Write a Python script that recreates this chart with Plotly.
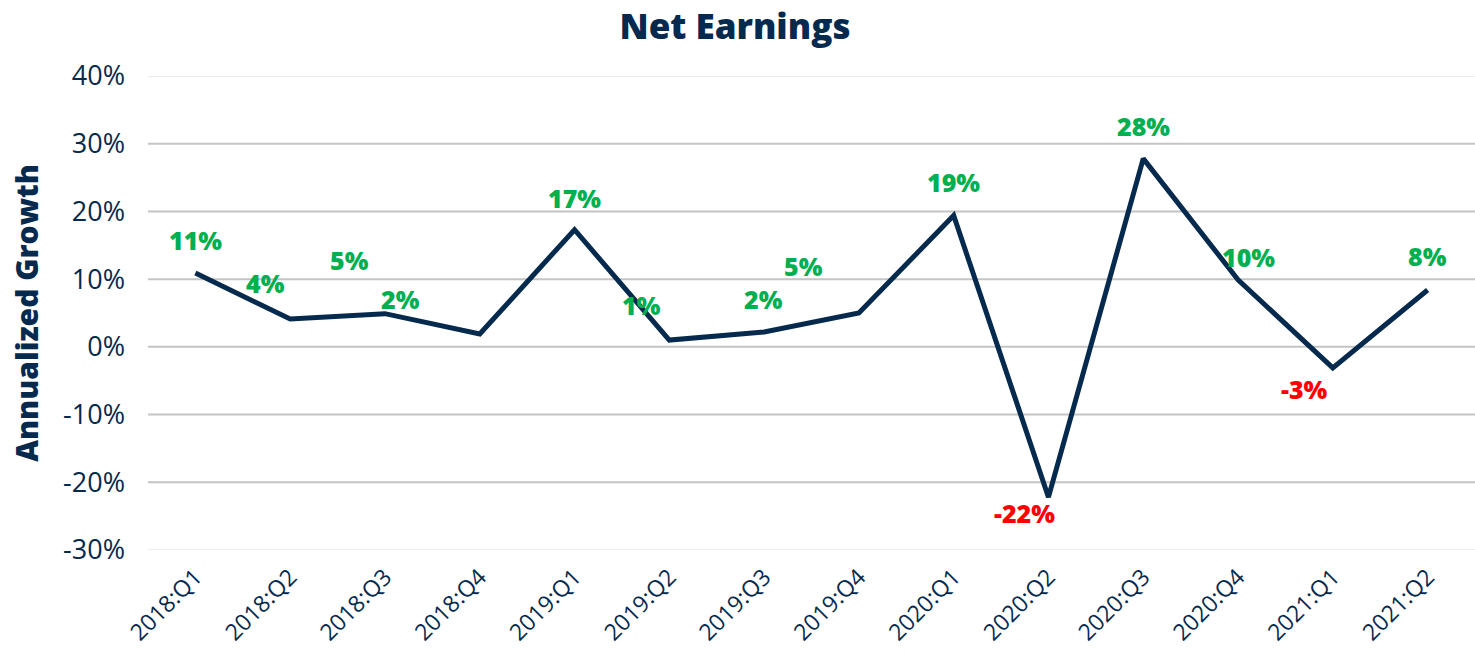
import plotly.graph_objects as go

quarters = ["2018:Q1", "2018:Q2", "2018:Q3", "2018:Q4",
            "2019:Q1", "2019:Q2", "2019:Q3", "2019:Q4",
            "2020:Q1", "2020:Q2", "2020:Q3", "2020:Q4",
            "2021:Q1", "2021:Q2"]
growth = [10.9, 4.1, 4.9, 1.9, 17.3, 1.0, 2.2, 5.0, 19.4, -22.2, 27.8, 9.9, -3.1, 8.4]
labels = ["11%", "4%", "5%", "2%", "17%", "1%", "2%", "5%", "19%", "-22%", "28%", "10%", "-3%", "8%"]
ytick_vals = [-30, -20, -10, 0, 10, 20, 30, 40]
ytick_text = ["-30%", "-20%", "-10%", "0%", "10%", "20%", "30%", "40%"]

# label pixel offsets (dx, dy) relative to the point, as in the original chart
label_dx = [0, -25, -35, -79, 0, -28, -1, -55, 0, -24, 0, 10, -28, 0]
label_dy = [33, 36, 54, 35, 32, 35, 33, 47, 33, -16, 33, 23, -21, 34]

NAVY = "#062a4e"
GREEN = "#00b050"
RED = "#ff0000"
HEAVY = "Open Sans"
LIGHT = "Open Sans"

fig = go.Figure()
fig.add_trace(go.Scatter(
    x=quarters, y=growth, mode="lines",
    line=dict(color=NAVY, width=5),
    hoverinfo="skip", showlegend=False,
))

for q, v, t, dx, dy in zip(quarters, growth, labels, label_dx, label_dy):
    fig.add_annotation(
        x=q, y=v, text=t, showarrow=False,
        xanchor="center", yanchor="middle",
        xshift=dx, yshift=dy,
        font=dict(family=HEAVY, size=25, color=GREEN if v >= 0 else RED, weight=800),
    )

for v in ytick_vals:
    edge = v in (ytick_vals[0], ytick_vals[-1])
    fig.add_shape(
        type="line", xref="paper", yref="y", x0=0, x1=1, y0=v, y1=v,
        line=dict(color="#eeeeee" if edge else "#c4c4c4", width=2),
        layer="below",
    )

fig.update_layout(
    width=1475, height=659, autosize=False,
    margin=dict(l=148, r=0, t=76, b=109),
    plot_bgcolor="white", paper_bgcolor="white",
    title=dict(text="Net Earnings", x=0.4983, xref="container", xanchor="center",
               y=0.959, yref="container", yanchor="middle",
               font=dict(family=HEAVY, size=35, color=NAVY, weight=800)),
    xaxis=dict(
        type="category", range=[-0.5, 13.5],
        showgrid=False, zeroline=False, showline=False,
        tickangle=-45, ticks="", ticklabelstandoff=8,
        tickfont=dict(family=LIGHT, size=23, color=NAVY, weight=400),
    ),
    yaxis=dict(
        range=[-30, 40], tickvals=ytick_vals, ticktext=ytick_text,
        showgrid=False, zeroline=False, showline=False, ticks="",
        ticklabelstandoff=22,
        tickfont=dict(family=LIGHT, size=27, color=NAVY, weight=400),
        title=dict(text="Annualized Growth", standoff=15,
                   font=dict(family=HEAVY, size=30, color=NAVY, weight=800)),
    ),
)

# remove the default 8px page margin so the figure fills the window exactly
fig.write_html("out.html",
               config={"displayModeBar": False},
               post_script="document.body.style.margin='0';document.body.style.overflow='hidden';")
